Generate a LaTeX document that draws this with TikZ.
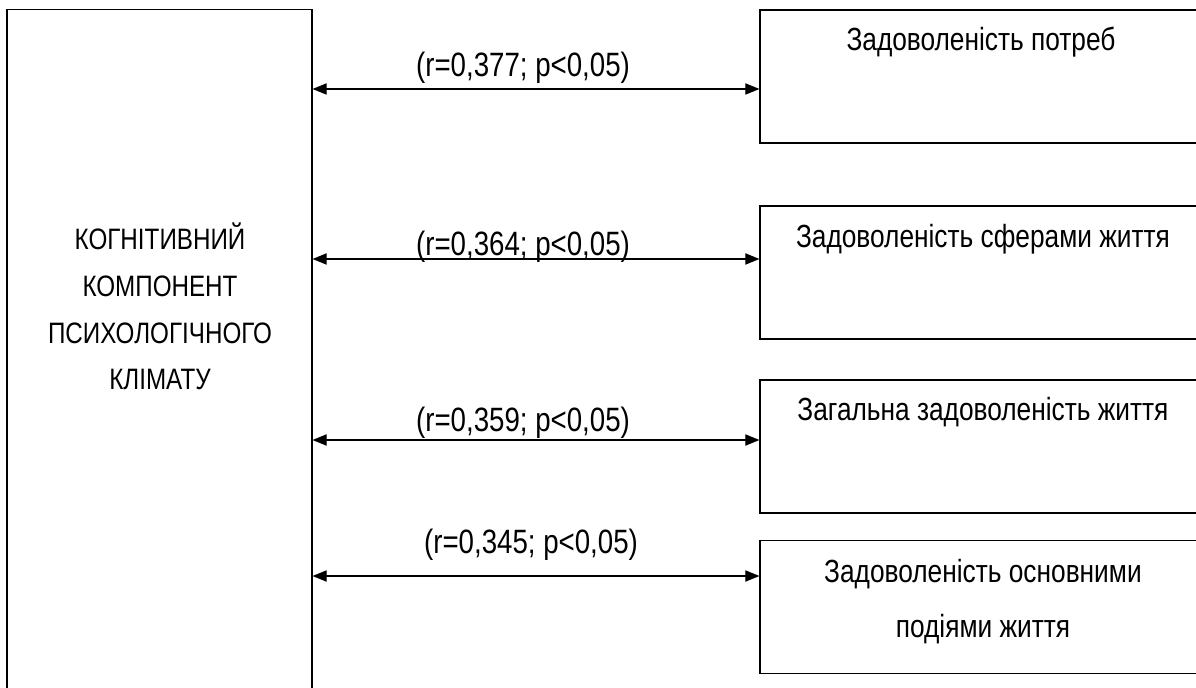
\documentclass[tikz,border=0pt]{standalone}
\usepackage{fontspec}
\setmainfont{Liberation Sans}[FakeStretch=0.82]
\usetikzlibrary{arrows.meta}

\begin{document}
\begin{tikzpicture}[x=0.025cm, y=-0.025cm, line width=0.8pt, >={Triangle[length=10pt, width=8pt]},
    box/.style={draw, inner sep=0pt},
    txt/.style={inner sep=0pt, align=center, font=\fontsize{22.8}{39}\selectfont}]
  \useasboundingbox (0,0) rectangle (1196,688);
  \clip (0,0) rectangle (1196,688);
  % left block, runs past the lower edge
  \node[box, minimum width=7.625cm, minimum height=17.25cm] (kog) at (159.5,355) {};
  \node[txt, anchor=base, font=\fontsize{21}{33.2}\selectfont] (kogt) at (160,390)
    {КОГНІТИВНИЙ\\ КОМПОНЕНТ\\ ПСИХОЛОГІЧНОГО\\ КЛІМАТУ};
  % right blocks, run past the right edge
  \foreach \i/\yc in {1/76.5, 2/272.5, 3/446.5, 4/607} {
    \node[box, minimum width=11.15cm, minimum height=3.325cm] (rb\i) at (983,\yc) {};
  }
  \node[txt, anchor=base] (rt1) at (981,51) {Задоволеність потреб};
  \node[txt, anchor=base] (rt2) at (983,248) {Задоволеність сферами життя};
  \node[txt, anchor=base] (rt3) at (983,420) {Загальна задоволеність життя};
  \node[txt, anchor=base] (rt4) at (983,637) {Задоволеність основними\\ подіями життя};
  % correlations
  \foreach \i/\ya/\yl/\r/\xl in {1/89/68/377/523, 2/259/247/364/523, 3/440/423/359/523, 4/576/545/345/531} {
    \coordinate (e\i) at (760,\ya);
    \draw[<->] (kog.east |- e\i) -- (rb\i.west |- e\i);
    \node[txt, font=\fontsize{24}{30}\selectfont] (lb\i) at (\xl,\yl) {(r=0,\r; p<0,05)};
  }
\end{tikzpicture}
\end{document}
